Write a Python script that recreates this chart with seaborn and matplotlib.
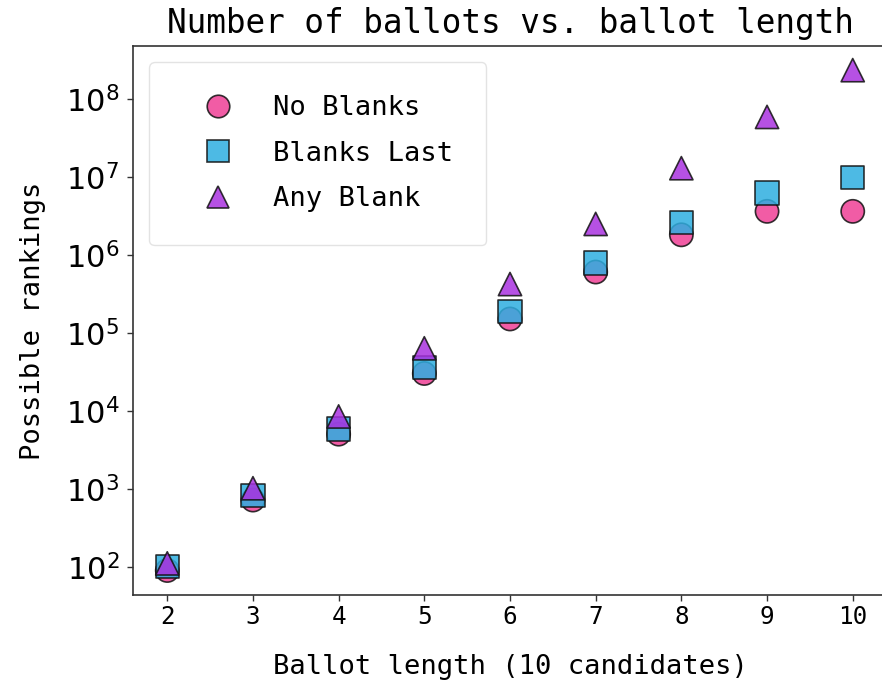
import numpy as np
import pandas as pd
import matplotlib
matplotlib.use("Agg")
import matplotlib.pyplot as plt
import matplotlib.ticker as mticker
import seaborn as sns

# Ballot lengths for a 10-candidate race
ballot_length = [2, 3, 4, 5, 6, 7, 8, 9, 10]

# Number of possible rankings for each ballot rule
no_blanks = [90, 720, 5040, 30240, 151200, 604800, 1814400, 3628800, 3628800]
blanks_last = [101, 821, 5861, 36101, 187301, 792101, 2606501, 6235301, 9864101]
any_blank = [111, 1021, 8501, 63591, 424051, 2501801, 12975561, 58941091, 234662231]

# Decades labelled on the y axis
y_decades = [2, 3, 4, 5, 6, 7, 8]

series_names = ["No Blanks", "Blanks Last", "Any Blank"]
series_colors = ["#ef3f96", "#2eaee0", "#a932e0"]
series_markers = ["o", "s", "^"]

df = pd.concat(
    [
        pd.DataFrame({"length": ballot_length, "count": vals, "rule": name})
        for name, vals in zip(series_names, [no_blanks, blanks_last, any_blank])
    ],
    ignore_index=True,
)

sns.set_style("white")
plt.rcParams["font.family"] = ["DejaVu Sans Mono", "DejaVu Sans"]
plt.rcParams["mathtext.fontset"] = "dejavusans"
plt.rcParams["text.color"] = "black"
plt.rcParams["axes.labelcolor"] = "black"
plt.rcParams["xtick.color"] = "black"
plt.rcParams["ytick.color"] = "black"

fig = plt.figure(figsize=(8.82, 6.89), dpi=100)
ax = fig.add_axes([133 / 882, (689 - 595) / 689, (887 - 133) / 882, (595 - 46) / 689])

sns.scatterplot(
    data=df,
    x="length",
    y="count",
    hue="rule",
    style="rule",
    hue_order=series_names,
    style_order=series_names,
    palette=dict(zip(series_names, series_colors)),
    markers=dict(zip(series_names, series_markers)),
    s=280,
    alpha=0.85,
    edgecolor="#111111",
    linewidth=1.2,
    ax=ax,
)

ax.set_yscale("log")
ax.set_ylim(10 ** 1.64, 10 ** 8.68)
ax.yaxis.set_major_locator(mticker.FixedLocator([10.0 ** d for d in y_decades]))
ax.yaxis.set_major_formatter(mticker.FuncFormatter(lambda v, _: rf"$10^{{{int(round(np.log10(v)))}}}$"))
ax.yaxis.set_minor_locator(mticker.NullLocator())
ax.set_xticks(ballot_length)

ax.set_title("Number of ballots vs. ballot length", fontsize=23.5, pad=9, color="black")
ax.set_xlabel("Ballot length (10 candidates)", fontsize=19.5, labelpad=18)
ax.set_ylabel("Possible rankings", fontsize=19.5, labelpad=14)

ax.tick_params(axis="x", labelsize=17.5, length=4, width=1, color="#333333",
               labelcolor="black", bottom=True)
ax.tick_params(axis="y", labelsize=22, length=4, width=1, color="#333333",
               labelcolor="black", left=True, pad=6)
for side in ["left", "bottom", "top", "right"]:
    ax.spines[side].set_color("#333333")
    ax.spines[side].set_linewidth(1.2)

handles, labels = ax.get_legend_handles_labels()
for h in handles:
    h.set_markersize(np.sqrt(280) * 0.97)
    h.set_markeredgecolor("#111111")
    h.set_markeredgewidth(1.2)
ax.legend(
    handles,
    labels,
    loc="upper left",
    fontsize=19.5,
    borderpad=1.22,
    handlelength=2.6,
    handletextpad=0.75,
    labelspacing=0.72,
    borderaxespad=0.6,
    frameon=True,
    edgecolor="#dddddd",
    title=None,
)

fig.savefig("out.png", dpi=100)
